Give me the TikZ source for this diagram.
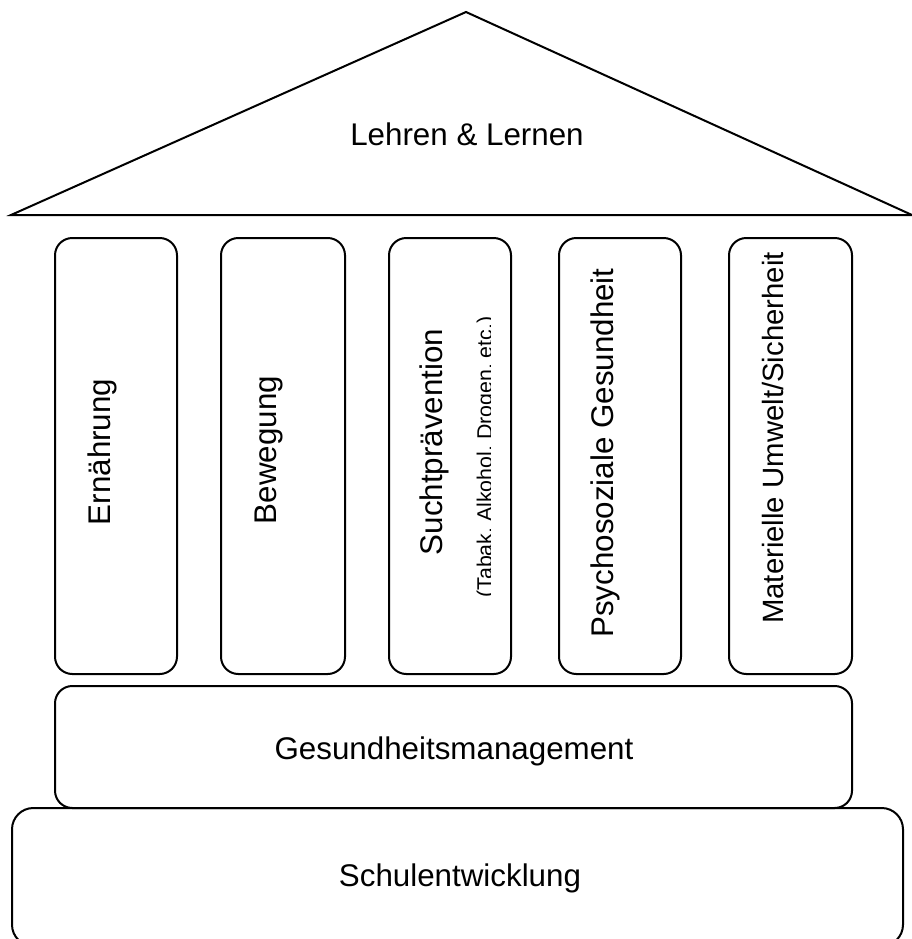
\documentclass[tikz,border=0pt]{standalone}
\usepackage{fontspec}
\setmainfont{Liberation Sans}
\begin{document}
\begin{tikzpicture}[x=0.75pt,y=-0.75pt,line width=1.5pt,
  pillar/.style={draw,rounded corners=13pt},
  slab/.style={draw,rounded corners=16pt},
  lbl/.style={font=\fontsize{23.5}{28}\selectfont,inner sep=0pt,anchor=base},
  vlbl/.style={lbl,rotate=90},
  small/.style={font=\fontsize{16}{19}\selectfont,inner sep=0pt,anchor=base,rotate=90}]
\useasboundingbox (0,0) rectangle (911,939);
% roof
\draw[line join=miter] (11,215) -- (466,12) -- (912,215) -- cycle;
\node[lbl] (roof) at (467,145) {Lehren \& Lernen};
% pillars
\draw[pillar] (55,238) rectangle (177,674);
\draw[pillar] (221,238) rectangle (345,674);
\draw[pillar] (389,238) rectangle (511,674);
\draw[pillar] (559,238) rectangle (681,674);
\draw[pillar] (729,238) rectangle (852,674);
\node[vlbl] (p1) at (110,452) {Ernährung};
\node[vlbl] (p2) at (276,450) {Bewegung};
\node[vlbl] (p3) at (442,442) {Suchtprävention};
\begin{scope}
\clip (389,238) rectangle (490,674);
\node[small] (p3s) at (492,457) {(Tabak, Alkohol, Drogen, etc.)};
\end{scope}
\node[vlbl] (p4) at (613,453) {Psychosoziale Gesundheit};
\node[vlbl,font=\fontsize{22}{26}\selectfont] (p5) at (783,438) {Materielle Umwelt/Sicherheit};
% base slabs
\draw[pillar] (55,686) rectangle (852,808);
\node[lbl] (gm) at (454,759) {Gesundheitsmanagement};
\draw[slab] (12,808) rectangle (903,946);
\node[lbl] (se) at (460,886) {Schulentwicklung};
\end{tikzpicture}
\end{document}
